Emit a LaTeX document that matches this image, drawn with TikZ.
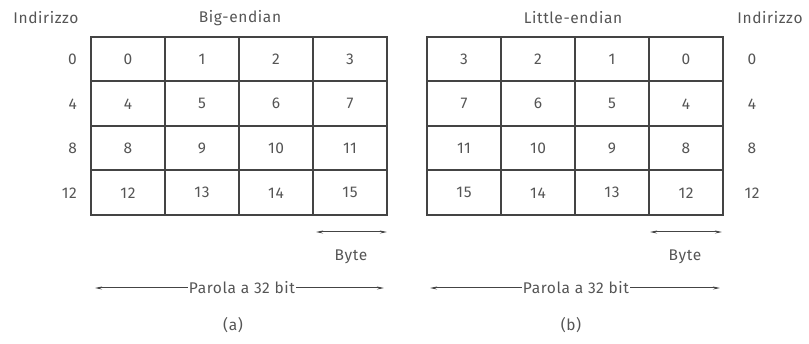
\documentclass[tikz,border=0pt]{standalone}
\usepackage{fontspec}
\setmainfont[LetterSpace=4]{Fira Sans}
\usetikzlibrary{arrows.meta}
\definecolor{ink}{HTML}{555555}
\definecolor{grid}{HTML}{444444}
\begin{document}
\begin{tikzpicture}[x=1pt,y=-1pt,
  every node/.style={text=ink,font=\fontsize{15.5}{18}\selectfont},
  cell/.style={draw=grid,line width=2pt,minimum width=74pt,minimum height=44.5pt,inner sep=0pt},
  lbl/.style={inner sep=0pt},
  dim/.style={draw=grid,line width=1pt,-{Stealth[length=7pt,width=3pt]}},
  dimboth/.style={draw=grid,line width=1pt,{Stealth[length=7pt,width=3pt]}-{Stealth[length=7pt,width=3pt]}}]
\useasboundingbox (0,0) rectangle (809,344);
% headings
\node[lbl] (ia) at (46,18) {Indirizzo};
\node[lbl] (be) at (240,18) {Big-endian};
\node[lbl] (le) at (573,18) {Little-endian};
\node[lbl] (ib) at (770,18) {Indirizzo};
% left grid
\foreach \r/\y in {0/59.25,1/103.75,2/148.25,3/192.75}{
  \foreach \c/\x in {0/128,1/202,2/276,3/350}{
    \pgfmathtruncatemacro{\v}{4*\r+\c}
    \node[cell] (L\r\c) at (\x,\y) {\v};
  }
  \pgfmathtruncatemacro{\a}{4*\r}
  \node[lbl,anchor=east] (AL\r) at (77,\y) {\a};
}
% right grid
\foreach \r/\y in {0/59.25,1/103.75,2/148.25,3/192.75}{
  \foreach \c/\x in {0/464,1/538,2/612,3/686}{
    \pgfmathtruncatemacro{\v}{4*\r+3-\c}
    \node[cell] (R\r\c) at (\x,\y) {\v};
  }
  \pgfmathtruncatemacro{\a}{4*\r}
  \node[lbl] (AR\r) at (752,\y) {\a};
}
% byte arrows
\coordinate (bla) at (316,232);
\coordinate (blb) at (387,232);
\draw[dimboth] (bla) -- (blb);
\node[lbl] (bl) at (351,257) {Byte};
\coordinate (bra) at (650,232);
\coordinate (brb) at (722,232);
\draw[dimboth] (bra) -- (brb);
\node[lbl] (br) at (685,257) {Byte};
% word arrows
\node[lbl,inner xsep=1pt] (pl) at (242,288) {Parola a 32 bit};
\coordinate (pla) at (95,288);
\coordinate (plb) at (384,288);
\draw[dim] (pl.west) -- (pla);
\draw[dim] (pl.east) -- (plb);
\node[lbl,inner xsep=1pt] (pr) at (576,288) {Parola a 32 bit};
\coordinate (pra) at (430,288);
\coordinate (prb) at (720,288);
\draw[dim] (pr.west) -- (pra);
\draw[dim] (pr.east) -- (prb);
% captions
\node[lbl] (ca) at (233,325) {(a)};
\node[lbl] (cb) at (571,325) {(b)};
\end{tikzpicture}
\end{document}
